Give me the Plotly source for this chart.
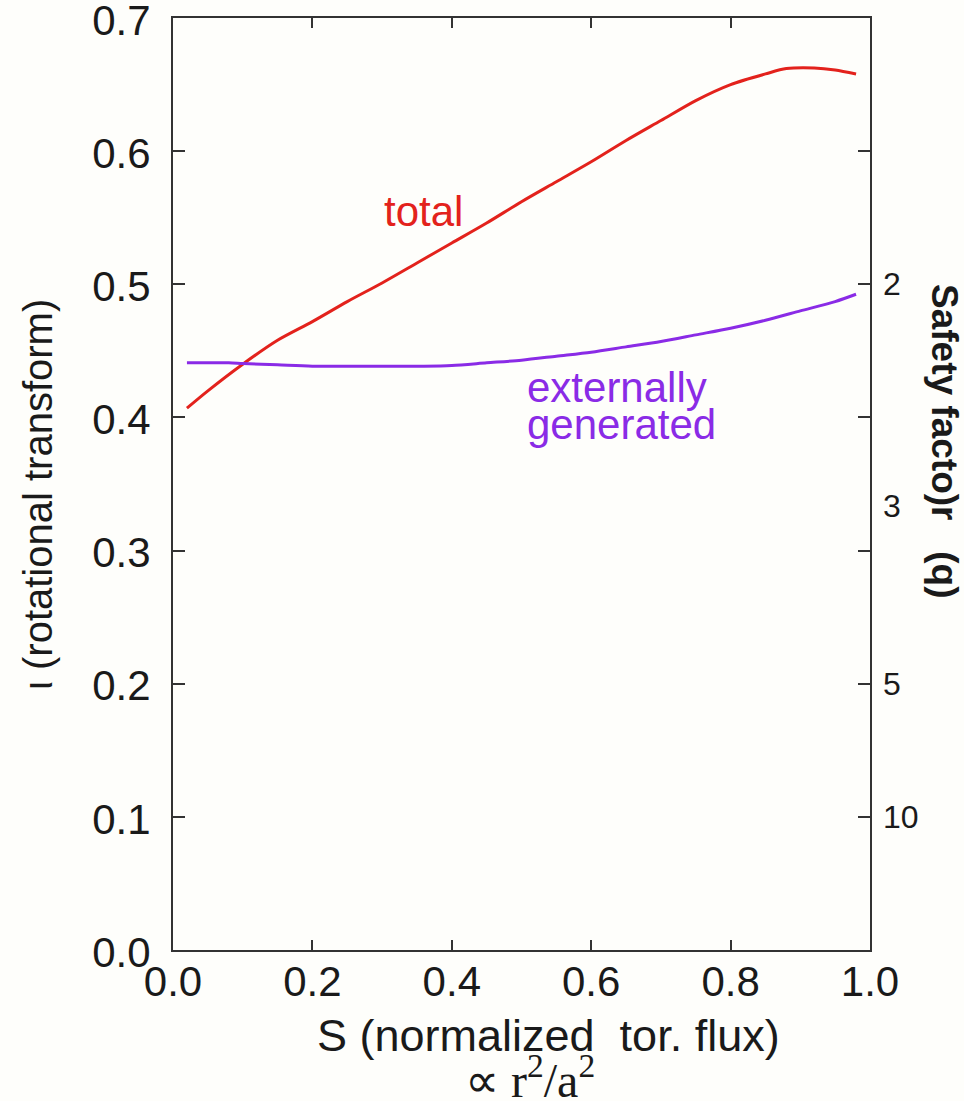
import plotly.graph_objects as go

# --- data ---
s_total = [0.02, 0.05, 0.10, 0.15, 0.20, 0.25, 0.30, 0.35, 0.40, 0.45, 0.50, 0.55,
           0.60, 0.65, 0.70, 0.75, 0.80, 0.85, 0.88, 0.92, 0.95, 0.98]
iota_total = [0.407, 0.420, 0.440, 0.458, 0.472, 0.487, 0.501, 0.516, 0.531, 0.546, 0.562, 0.577,
              0.592, 0.608, 0.623, 0.638, 0.650, 0.658, 0.662, 0.6625, 0.661, 0.658]

s_ext = [0.02, 0.08, 0.10, 0.15, 0.20, 0.30, 0.36, 0.40, 0.45, 0.50, 0.55, 0.60,
         0.65, 0.70, 0.75, 0.80, 0.85, 0.90, 0.95, 0.98]
iota_ext = [0.441, 0.441, 0.4405, 0.4395, 0.4385, 0.4385, 0.4385, 0.439, 0.441, 0.443, 0.446, 0.449,
            0.453, 0.457, 0.462, 0.467, 0.473, 0.480, 0.487, 0.4925]

x_ticks = [0.0, 0.2, 0.4, 0.6, 0.8, 1.0]
y_ticks = [0.0, 0.1, 0.2, 0.3, 0.4, 0.5, 0.6, 0.7]
q_tickvals = [0.1, 0.2, 1 / 3, 0.5]
q_ticktext = ["10", "5", "3", "2"]

RED = "#e3221c"
PURPLE = "#8a2be6"
INK = "#1a1a1a"
FONT = "Liberation Sans, Arial, sans-serif"

fig = go.Figure()
fig.add_trace(go.Scatter(x=s_total, y=iota_total, mode="lines",
                         line=dict(color=RED, width=3, shape="spline", smoothing=0.8),
                         showlegend=False))
fig.add_trace(go.Scatter(x=s_ext, y=iota_ext, mode="lines",
                         line=dict(color=PURPLE, width=3, shape="spline", smoothing=0.8),
                         showlegend=False))
# invisible trace to activate the right axis
fig.add_trace(go.Scatter(x=[0.5], y=[0.5], yaxis="y2", mode="markers", marker=dict(opacity=0),
                         showlegend=False, hoverinfo="skip"))

fig.update_layout(
    width=964, height=1101,
    margin=dict(l=173, r=94, t=18, b=151, autoexpand=False),
    paper_bgcolor="#fefefb", plot_bgcolor="#fefefb",
    font=dict(family=FONT, color=INK),
    xaxis=dict(range=[0, 1], tickvals=x_ticks, ticktext=[f"{v:.1f}" for v in x_ticks],
               ticks="inside", ticklen=10, tickwidth=2, tickcolor="#333",
               showline=True, linecolor="#333", linewidth=2, mirror="ticks",
               showgrid=False, zeroline=False, tickfont=dict(size=42, color=INK),
               ticklabelstandoff=-6, ticklabeloverflow="allow", automargin=False),
    yaxis=dict(range=[0, 0.7], tickvals=y_ticks, ticktext=[f"{v:.1f}" for v in y_ticks],
               ticks="inside", ticklen=12, tickwidth=2, tickcolor="#333",
               showline=True, linecolor="#333", linewidth=2, mirror="ticks",
               showgrid=False, zeroline=False, tickfont=dict(size=42, color=INK),
               ticklabelstandoff=12, ticklabelshift=2, ticklabeloverflow="allow",
               automargin=False),
    yaxis2=dict(range=[0, 0.7], overlaying="y", side="right", tickvals=q_tickvals, ticktext=q_ticktext,
                ticks="", showline=False, showgrid=False, zeroline=False,
                tickfont=dict(size=32, color=INK), ticklabelstandoff=12, automargin=False),
)

ann = [
    dict(x=0.360, y=0.555, xref="x", yref="y", text="total", showarrow=False,
         xanchor="center", yanchor="middle", font=dict(size=42, color=RED)),
    dict(x=0.505, y=0.4226, xref="x", yref="y", text="externally", showarrow=False,
         xanchor="left", yanchor="middle", font=dict(size=42, color=PURPLE)),
    dict(x=0.505, y=0.3947, xref="x", yref="y", text="generated", showarrow=False,
         xanchor="left", yanchor="middle", font=dict(size=42, color=PURPLE)),
    # axis titles
    dict(x=(548 - 173) / 697, y=(950 - 1035) / 932, xref="paper", yref="paper",
         xanchor="center", yanchor="middle",
         text="S (normalized\u00a0\u00a0tor. flux)", showarrow=False, font=dict(size=45, color=INK)),
    dict(x=(38 - 173) / 697, y=(950 - 495) / 932, xref="paper", yref="paper",
         xanchor="center", yanchor="middle",
         text="\u03b9 (rotational transform)", textangle=-90, showarrow=False,
         font=dict(size=40, color=INK)),
    dict(x=(945 - 173) / 697, y=(950 - 441) / 932, xref="paper", yref="paper",
         xanchor="center", yanchor="middle",
         text="<b>Safety facto)r\u00a0\u00a0\u00a0(q)</b>", textangle=90, showarrow=False,
         font=dict(size=37, color=INK)),
    dict(x=(530 - 173) / 697, y=(950 - 1077) / 932, xref="paper", yref="paper",
         xanchor="center", yanchor="middle",
         text="\u221d r<sup>2</sup>/a<sup>2</sup>", showarrow=False,
         font=dict(size=48, color=INK, family="Liberation Serif, Times New Roman, serif")),
]
fig.update_layout(annotations=ann)

fig.write_html("out.html")
